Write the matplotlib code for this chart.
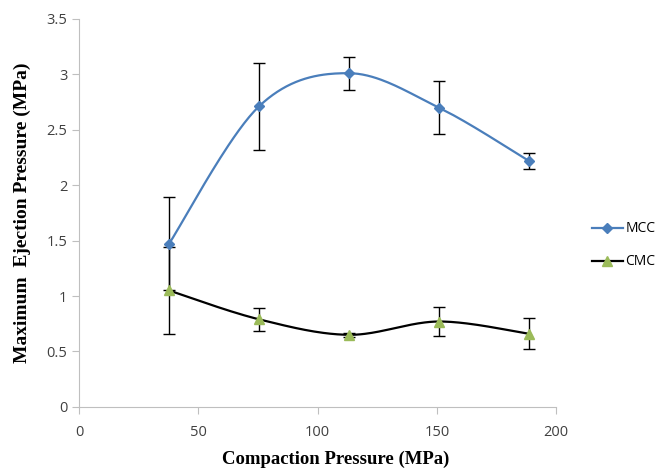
import numpy as np
import matplotlib.pyplot as plt

# compaction pressures (MPa)
x = [37.7, 75.4, 113.1, 150.8, 188.5]

mcc = [1.47, 2.71, 3.01, 2.70, 2.22]
mcc_err = [0.42, 0.39, 0.15, 0.24, 0.07]

cmc = [1.05, 0.79, 0.65, 0.77, 0.66]
cmc_err = [0.39, 0.105, 0.02, 0.13, 0.14]


def smooth(xs, ys, n=40):
    # Excel style smoothed line: Catmull-Rom segments as cubic Bezier
    p = np.column_stack([xs, ys]).astype(float)
    p = np.vstack([p[0], p, p[-1]])
    out = []
    t = np.linspace(0, 1, n)[:, None]
    for i in range(1, len(p) - 2):
        p0, p1, p2, p3 = p[i - 1], p[i], p[i + 1], p[i + 2]
        c1 = p1 + (p2 - p0) / 6
        c2 = p2 - (p3 - p1) / 6
        seg = ((1 - t) ** 3) * p1 + 3 * ((1 - t) ** 2) * t * c1 + 3 * (1 - t) * t ** 2 * c2 + t ** 3 * p2
        out.append(seg)
    out = np.vstack(out)
    return out[:, 0], out[:, 1]


fig = plt.figure(figsize=(6.7, 4.72), dpi=100)
ax = fig.add_axes([0.118, 0.138, 0.712, 0.822])

blue = "#4A7EBB"
green = "#9BBB59"

sx, sy = smooth(x, mcc)
ax.plot(sx, sy, color=blue, lw=1.6, zorder=2)
ax.errorbar(x, mcc, yerr=mcc_err, fmt="none", ecolor="black", elinewidth=1, capsize=4, capthick=1, zorder=3)
ax.plot(x, mcc, ls="none", marker="D", ms=5.5, color=blue, zorder=4)

sx, sy = smooth(x, cmc)
ax.plot(sx, sy, color="black", lw=1.6, zorder=2)
ax.errorbar(x, cmc, yerr=cmc_err, fmt="none", ecolor="black", elinewidth=1, capsize=4, capthick=1, zorder=3)
ax.plot(x, cmc, ls="none", marker="^", ms=7.5, color=green, zorder=4)

# legend proxies
ax.plot([], [], color=blue, lw=1.6, marker="D", ms=5.5, label="MCC")
ax.plot([], [], color="black", lw=1.6, marker="^", ms=7.5, mfc=green, mec=green, label="CMC")
fig.legend(loc="center left", bbox_to_anchor=(0.865, 0.48), frameon=False,
           prop={"family": "Open Sans", "size": 10}, handlelength=2.2, labelspacing=1.3, handletextpad=0.2)

ax.set_xlim(0, 200)
ax.set_ylim(0, 3.5)
ax.set_xticks(np.arange(0, 201, 50))
ax.set_yticks(np.arange(0, 3.51, 0.5))
ax.set_yticklabels(["0", "0.5", "1", "1.5", "2", "2.5", "3", "3.5"])

for s in ["top", "right"]:
    ax.spines[s].set_visible(False)
for s in ["left", "bottom"]:
    ax.spines[s].set_color("#BFBFBF")
ax.tick_params(colors="#BFBFBF", labelcolor="#404040", length=5, direction="out")
for lab in ax.get_xticklabels() + ax.get_yticklabels():
    lab.set_family("Open Sans")
    lab.set_size(10.5)
ax.tick_params(axis="x", pad=8)

ax.set_xlabel("Compaction Pressure (MPa)", family="Liberation Serif", weight="bold", size=13.5, labelpad=8)
ax.xaxis.label.set_x(0.539)
ax.set_ylabel("Maximum  Ejection Pressure (MPa)", family="Liberation Serif", weight="bold", size=14, labelpad=11)

fig.savefig("out.png", dpi=100)
